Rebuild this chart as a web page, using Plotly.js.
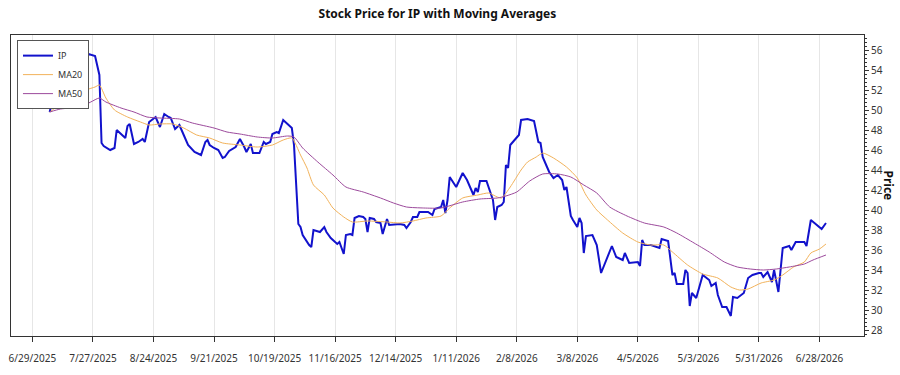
<!DOCTYPE html>
<html>
<head>
<meta charset="utf-8">
<script src="https://cdn.plot.ly/plotly-3.0.1.min.js"></script>
<style>html,body{margin:0;padding:0;background:#fff;}#chart{width:900px;height:375px;}</style>
</head>
<body>
<div id="chart"></div>
<script>
// IP closing price
const ipDates = [
'2025-07-07','2025-07-09','2025-07-11','2025-07-13','2025-07-14','2025-07-15','2025-07-16','2025-07-17','2025-07-18','2025-07-21',
'2025-07-23','2025-07-25','2025-07-28','2025-07-30','2025-07-31','2025-08-01','2025-08-04','2025-08-06','2025-08-07','2025-08-09',
'2025-08-11','2025-08-12','2025-08-13','2025-08-15','2025-08-17','2025-08-19','2025-08-20','2025-08-22','2025-08-24','2025-08-25',
'2025-08-27','2025-08-29','2025-08-31','2025-09-01','2025-09-03','2025-09-05','2025-09-07','2025-09-09','2025-09-12','2025-09-15',
'2025-09-17','2025-09-18','2025-09-19','2025-09-21','2025-09-23','2025-09-25','2025-09-26','2025-09-28','2025-10-01','2025-10-03',
'2025-10-05','2025-10-06','2025-10-08','2025-10-09','2025-10-12','2025-10-14','2025-10-15','2025-10-17','2025-10-18','2025-10-20',
'2025-10-21','2025-10-23','2025-10-25','2025-10-27','2025-10-28','2025-10-30','2025-10-31','2025-11-01','2025-11-04','2025-11-05',
'2025-11-06','2025-11-08','2025-11-09','2025-11-11','2025-11-12','2025-11-14','2025-11-16','2025-11-17','2025-11-18','2025-11-20',
'2025-11-21','2025-11-23','2025-11-24','2025-11-25','2025-11-27','2025-11-29','2025-11-30','2025-12-01','2025-12-02','2025-12-04',
'2025-12-05','2025-12-07','2025-12-08','2025-12-10','2025-12-11','2025-12-14','2025-12-16','2025-12-18','2025-12-19','2025-12-21',
'2025-12-22','2025-12-24','2025-12-25','2025-12-27','2025-12-29','2025-12-31','2026-01-01','2026-01-04','2026-01-05','2026-01-06',
'2026-01-07','2026-01-08','2026-01-11','2026-01-14','2026-01-16','2026-01-19','2026-01-20','2026-01-21','2026-01-22','2026-01-25',
'2026-01-27','2026-01-28','2026-01-29','2026-01-30','2026-02-01','2026-02-02','2026-02-03','2026-02-04','2026-02-05','2026-02-07',
'2026-02-09','2026-02-10','2026-02-13','2026-02-16','2026-02-18','2026-02-19','2026-02-20','2026-02-22','2026-02-23','2026-02-25',
'2026-02-27','2026-03-01','2026-03-02','2026-03-03','2026-03-05','2026-03-06','2026-03-08','2026-03-09','2026-03-10','2026-03-11',
'2026-03-12','2026-03-15','2026-03-17','2026-03-19','2026-03-24','2026-03-26','2026-03-29','2026-03-30','2026-04-01','2026-04-05',
'2026-04-06','2026-04-07','2026-04-08','2026-04-11','2026-04-15','2026-04-16','2026-04-19','2026-04-21','2026-04-22','2026-04-23',
'2026-04-26','2026-04-27','2026-04-28','2026-04-29','2026-04-30','2026-05-02','2026-05-05','2026-05-08','2026-05-09','2026-05-11',
'2026-05-12','2026-05-14','2026-05-16','2026-05-18','2026-05-19','2026-05-21','2026-05-24','2026-05-26','2026-05-28','2026-05-31',
'2026-06-01','2026-06-02','2026-06-04','2026-06-06','2026-06-07','2026-06-09','2026-06-10','2026-06-11','2026-06-14','2026-06-15',
'2026-06-17','2026-06-21','2026-06-22','2026-06-24','2026-06-29','2026-07-01'
];
const ipValues = [
49.8,51.6,52.8,52.4,51.8,51.2,51.3,51.0,50.3,51.3,
54.0,55.6,55.4,53.5,46.7,46.4,46.0,46.2,48.0,47.6,
47.2,48.4,48.6,46.6,46.8,47.1,46.8,48.8,49.2,49.3,
48.3,49.6,49.3,49.2,48.1,48.5,47.5,46.5,45.8,45.5,
46.8,47.0,46.5,46.2,46.0,45.2,45.3,45.9,46.3,47.1,
46.3,45.8,46.6,45.7,45.7,46.8,46.6,46.8,47.6,47.8,
47.7,49.0,48.6,48.2,46.5,38.6,38.3,37.5,36.5,36.3,
38.0,37.9,37.8,38.3,37.8,37.2,36.8,36.6,36.8,35.6,
37.5,37.6,37.5,39.2,39.4,39.3,39.1,37.8,39.2,39.1,
38.8,38.7,37.6,39.1,38.5,38.6,38.6,38.5,38.2,38.8,
39.3,39.3,39.8,39.8,39.8,39.5,40.1,40.3,41.0,39.7,
41.0,43.3,42.3,43.7,43.0,41.5,42.2,41.8,42.9,42.9,
41.7,41.0,39.0,40.3,40.5,40.8,44.5,44.2,46.5,47.0,
47.5,49.0,49.1,48.9,46.8,46.7,45.3,44.3,43.8,43.2,
43.5,43.0,42.0,42.3,39.4,39.0,38.3,39.2,38.7,35.7,
37.4,37.5,36.5,33.7,36.4,35.3,35.0,35.7,34.7,34.8,
34.4,37.0,36.5,36.5,36.2,37.1,36.9,33.5,33.7,32.6,
32.6,34.0,33.7,30.4,31.7,31.2,33.5,33.0,32.4,32.7,
31.5,30.3,30.3,29.4,31.3,31.2,31.7,33.2,33.5,33.7,
33.7,33.3,33.8,32.8,34.0,31.8,34.3,36.2,36.4,36.0,
36.8,36.8,36.4,39.0,38.1,38.7
];

// 20-day moving average
const ma20Dates = [
'2025-07-07','2025-07-12','2025-07-18','2025-07-24','2025-07-28','2025-07-30','2025-08-02','2025-08-06','2025-08-12','2025-08-18',
'2025-08-22','2025-08-27','2025-09-02','2025-09-07','2025-09-13','2025-09-19','2025-09-25','2025-10-03','2025-10-11','2025-10-18',
'2025-10-23','2025-10-27','2025-10-31','2025-11-03','2025-11-06','2025-11-11','2025-11-15','2025-11-20','2025-11-24','2025-12-01',
'2025-12-10','2025-12-16','2025-12-22','2025-12-28','2026-01-04','2026-01-08','2026-01-14','2026-01-21','2026-01-26','2026-01-30',
'2026-02-01','2026-02-05','2026-02-10','2026-02-13','2026-02-17','2026-02-20','2026-02-25','2026-03-03','2026-03-08','2026-03-12',
'2026-03-17','2026-03-22','2026-03-29','2026-04-05','2026-04-11','2026-04-17','2026-04-21','2026-04-28','2026-05-05','2026-05-12',
'2026-05-18','2026-05-22','2026-05-26','2026-06-01','2026-06-07','2026-06-11','2026-06-16','2026-06-21','2026-06-24','2026-06-28',
'2026-07-01'
];
const ma20Values = [
49.8,50.5,50.8,52.0,52.3,52.5,51.2,50.0,49.3,48.8,
48.5,48.6,48.6,48.2,47.5,47.2,46.7,46.5,46.3,46.5,
47.0,47.2,45.5,44.2,42.5,41.5,40.2,39.3,38.8,38.9,
38.8,38.7,38.9,39.2,39.4,40.2,41.2,41.5,41.7,41.3,
41.2,42.3,44.0,44.8,45.3,45.7,45.2,44.3,43.2,41.5,
40.0,39.0,37.7,36.8,36.5,36.5,35.8,34.5,33.6,33.2,
32.3,32.0,32.1,32.7,33.0,33.5,34.3,34.8,35.7,36.1,
36.6
];

// 50-day moving average
const ma50Dates = [
'2025-07-07','2025-07-12','2025-07-21','2025-07-26','2025-07-30','2025-08-02','2025-08-09','2025-08-15','2025-08-21','2025-08-27',
'2025-09-05','2025-09-11','2025-09-21','2025-09-27','2025-10-03','2025-10-11','2025-10-18','2025-10-25','2025-10-28','2025-11-01',
'2025-11-08','2025-11-15','2025-11-21','2025-11-29','2025-12-07','2025-12-13','2025-12-19','2025-12-27','2026-01-04','2026-01-14',
'2026-01-22','2026-01-30','2026-02-03','2026-02-08','2026-02-14','2026-02-20','2026-02-27','2026-03-05','2026-03-11','2026-03-17',
'2026-03-23','2026-03-31','2026-04-08','2026-04-17','2026-04-23','2026-05-01','2026-05-08','2026-05-15','2026-05-21','2026-05-27',
'2026-06-02','2026-06-08','2026-06-14','2026-06-21','2026-06-25','2026-07-01'
];
const ma50Values = [
49.8,50.1,50.3,50.8,51.2,50.8,50.2,49.8,49.3,49.2,
49.1,48.7,48.2,47.8,47.6,47.3,47.2,47.4,47.3,46.2,
44.8,43.5,42.3,41.8,41.2,40.7,40.3,40.2,40.2,40.8,
41.1,41.2,41.4,41.8,42.9,43.6,43.6,43.3,42.5,41.7,
40.3,39.4,38.7,38.3,37.7,36.7,35.8,34.8,34.3,34.1,
34.0,34.1,34.3,34.6,35.0,35.5
];

// Axis ticks
const xTickVals = ['2025-06-29','2025-07-27','2025-08-24','2025-09-21','2025-10-19','2025-11-16','2025-12-14',
  '2026-01-11','2026-02-08','2026-03-08','2026-04-05','2026-05-03','2026-05-31','2026-06-28'];
const xTickText = ['6/29/2025','7/27/2025','8/24/2025','9/21/2025','10/19/2025','11/16/2025','12/14/2025',
  '1/11/2026','2/8/2026','3/8/2026','4/5/2026','5/3/2026','5/31/2026','6/28/2026'];

const FONT = 'Noto Sans, Open Sans, DejaVu Sans, sans-serif';

const traces = [
  {x: ipDates, y: ipValues, name: 'IP', type: 'scatter', mode: 'lines',
   line: {color: '#1212cc', width: 2}},
  {x: ma20Dates, y: ma20Values, name: 'MA20', type: 'scatter', mode: 'lines',
   line: {color: '#f2b25a', width: 1, shape: 'spline', smoothing: 0.6}},
  {x: ma50Dates, y: ma50Values, name: 'MA50', type: 'scatter', mode: 'lines',
   line: {color: '#9c4a9c', width: 1, shape: 'spline', smoothing: 0.6}}
];

const layout = {
  width: 900, height: 375,
  margin: {l: 11, r: 36, t: 35, b: 39},
  paper_bgcolor: '#fff', plot_bgcolor: '#fff',
  font: {family: FONT, size: 10, color: '#333'},
  title: {text: '<b>Stock Price for IP with Moving Averages</b>', x: 0.486, xanchor: 'center', y: 0.963, yanchor: 'middle',
          font: {family: FONT, size: 12, color: '#111'}},
  showlegend: true,
  legend: {x: 0.007, y: 0.983, xanchor: 'left', yanchor: 'top', bgcolor: '#fff', bordercolor: '#555', borderwidth: 1,
           font: {family: FONT, size: 9, color: '#333'}, tracegroupgap: 0, itemwidth: 30},
  xaxis: {
    type: 'date', range: ['2025-06-19 03:00', '2026-07-18 14:00'],
    tickmode: 'array', tickvals: xTickVals, ticktext: xTickText, tickangle: 0,
    ticks: 'outside', ticklen: 5, tickcolor: '#333', ticklabelstandoff: 8,
    showgrid: true, gridcolor: '#e6e6e6', gridwidth: 1,
    showline: true, linecolor: '#333', linewidth: 1, mirror: true,
    zeroline: false, tickfont: {size: 10, color: '#333'}
  },
  yaxis: {
    side: 'right', range: [27.4, 57.5], tickmode: 'linear', tick0: 28, dtick: 2,
    ticks: 'outside', ticklen: 4, tickcolor: '#333',
    minor: {ticks: 'outside', ticklen: 2, dtick: 0.4, tickcolor: '#333', showgrid: false},
    showgrid: false, showline: true, linecolor: '#333', linewidth: 1, mirror: true,
    zeroline: false, tickfont: {size: 10, color: '#333'}
  },
  annotations: [{
    text: '<b>Price</b>', xref: 'paper', yref: 'paper', x: 1.0, xshift: 24, y: 0.5,
    xanchor: 'center', yanchor: 'middle',
    showarrow: false, textangle: 90, font: {family: FONT, size: 12, color: '#111'}
  }]
};

Plotly.newPlot('chart', traces, layout, {displayModeBar: false, staticPlot: true});
</script>
</body>
</html>
